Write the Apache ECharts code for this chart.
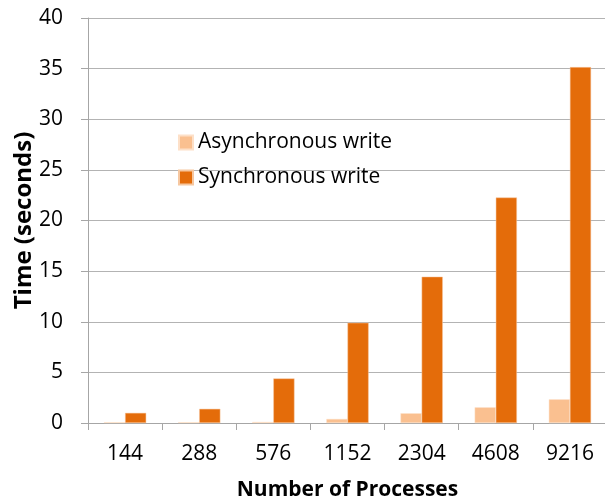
<!DOCTYPE html>
<html><head><meta charset="utf-8">
<script src="https://cdn.jsdelivr.net/npm/echarts@6/dist/echarts.min.js"></script>
<style>html,body{margin:0;padding:0;background:#fff}#c{width:605px;height:502px}</style>
</head><body><div id="c"></div>
<script>
var categories = ['144','288','576','1152','2304','4608','9216'];
var asyncWrite = [0.08, 0.08, 0.1, 0.4, 0.96, 1.55, 2.34];
var syncWrite = [1.0, 1.4, 4.4, 9.9, 14.45, 22.27, 35.15];
var yTicks = {min: 0, max: 40, interval: 5};
var FONT = '"Open Sans", "Liberation Sans", sans-serif';
var chart = echarts.init(document.getElementById('c'));
chart.setOption({
  animation: false,
  backgroundColor: '#fff',
  grid: {left: 88, top: 18, width: 519, bottom: 79, containLabel: false, outerBoundsMode: 'none'},
  legend: {
    orient: 'vertical', left: 173, top: 126, itemWidth: 14, itemHeight: 14, itemGap: 12,
    icon: 'rect',
    textStyle: {fontFamily: FONT, fontSize: 21, lineHeight: 23, color: '#000'},
    data: ['Asynchronous write', 'Synchronous write']
  },
  xAxis: {
    type: 'category', data: categories,
    name: 'Number of Processes', nameLocation: 'middle', nameGap: 57, nameMoveOverlap: false,
    nameTextStyle: {fontFamily: FONT, fontSize: 21, fontWeight: 'bold', color: '#000'},
    axisLine: {lineStyle: {color: '#a6a6a6'}},
    axisTick: {show: true, length: 7, lineStyle: {color: '#a6a6a6'}},
    axisLabel: {fontFamily: FONT, fontSize: 21, color: '#000', margin: 21}
  },
  yAxis: {
    type: 'value', min: yTicks.min, max: yTicks.max, interval: yTicks.interval,
    name: 'Time (seconds)', nameLocation: 'middle', nameGap: 52, nameRotate: 90, nameMoveOverlap: false,
    nameTextStyle: {fontFamily: FONT, fontSize: 24, fontWeight: 'bold', color: '#000'},
    axisLine: {show: true, lineStyle: {color: '#a6a6a6'}},
    axisTick: {show: true, length: 7, lineStyle: {color: '#a6a6a6'}},
    axisLabel: {fontFamily: FONT, fontSize: 21, color: '#000', margin: 25},
    splitLine: {lineStyle: {color: '#b3b3b3'}}
  },
  series: [
    {name: 'Asynchronous write', type: 'bar', data: asyncWrite, barGap: '0%', barCategoryGap: '43%',
     itemStyle: {color: '#fac090', borderColor: '#fde0c8', borderWidth: 0.5}},
    {name: 'Synchronous write', type: 'bar', data: syncWrite, barGap: '0%', barCategoryGap: '43%',
     itemStyle: {color: '#e46c0a', borderColor: '#f6c7a0', borderWidth: 0.5}}
  ]
});
</script></body></html>
